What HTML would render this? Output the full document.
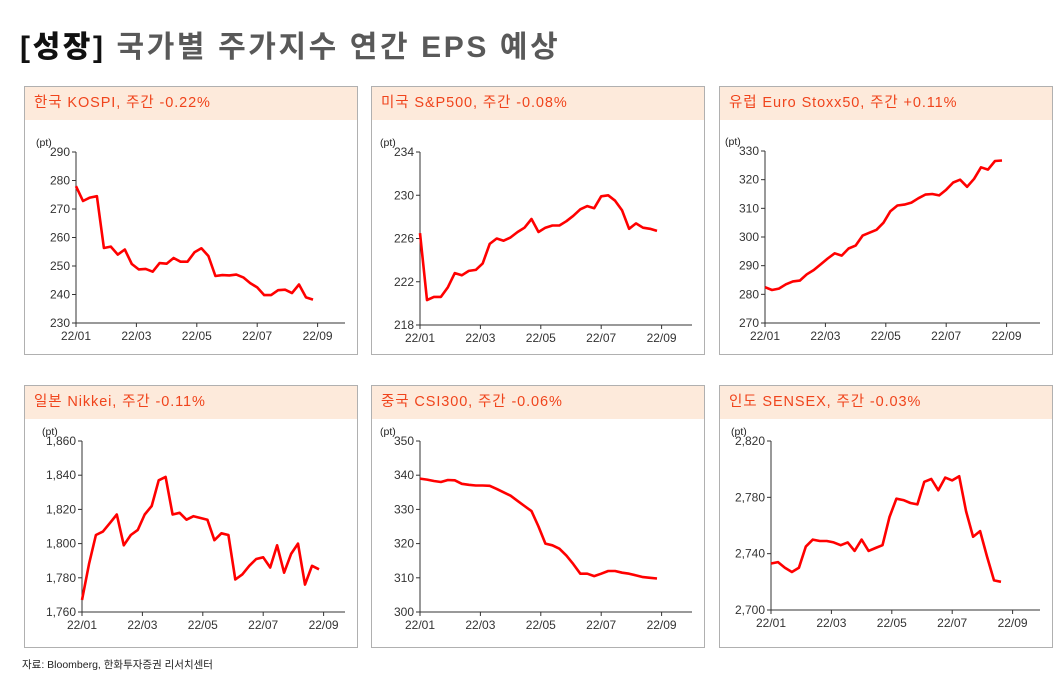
<!DOCTYPE html>
<html><head><meta charset="utf-8">
<style>
body{margin:0;width:1061px;height:681px;background:#fff;overflow:hidden;font-family:"Liberation Sans","Noto Sans CJK KR",sans-serif;}
#title{position:absolute;left:20px;top:22px;font-size:30px;font-weight:bold;color:#595959;letter-spacing:2.6px;}
#title b{color:#111}
.panel{position:absolute;border:1.5px solid #b0b0b0;box-sizing:border-box;background:#fff}
.hdr{height:33px;background:#fdeadb;color:#f0441c;font-size:14.5px;line-height:33px;padding-left:9px;letter-spacing:0.9px}
svg{position:absolute;left:0;top:0}
#src{position:absolute;left:22px;top:657px;font-size:10.5px;color:#222}
</style></head><body>
<div id="title"><b>[성장]</b> 국가별 주가지수 연간 EPS 예상</div>
<div id="src">자료: Bloomberg, 한화투자증권 리서치센터</div>
<svg id="cv" width="1061" height="681"></svg>
<script>
const months=["22/01","22/03","22/05","22/07","22/09"];
const kospi=[278,272.8,274,274.5,256.3,256.8,254,255.8,250.7,248.8,249,248,251,250.8,252.8,251.5,251.5,254.8,256.2,253.5,246.5,246.8,246.7,247,246,244,242.5,239.8,239.8,241.5,241.7,240.5,243.5,239,238.2];
const sp500=[226.5,220.3,220.6,220.6,221.5,222.8,222.6,223,223.1,223.7,225.5,226,225.8,226.1,226.6,227.0,227.8,226.6,227,227.2,227.2,227.6,228.1,228.7,229,228.8,229.9,230,229.5,228.6,226.9,227.4,227,226.9,226.7];
const euro=[282.5,281.5,282,283.5,284.5,284.8,287,288.5,290.5,292.5,294.3,293.5,296,297,300.5,301.5,302.5,305,309,311,311.3,312,313.5,314.8,315,314.5,316.5,319,320,317.5,320.3,324.3,323.5,326.5,326.7];
const nikkei=[1767,1788,1805,1807,1812,1817,1799,1805,1808,1817,1822,1837,1839,1817,1818,1814,1816,1815,1814,1802,1806,1805,1779,1782,1787,1791,1792,1786,1799,1783,1794,1800,1776,1787,1785];
const csi=[339,338.7,338.3,338,338.6,338.5,337.5,337.2,337,337,336.9,336,335,334,332.5,331,329.5,325,320,319.5,318.5,316.5,314,311.2,311.2,310.5,311.2,312,312,311.5,311.2,310.7,310.2,310,309.8];
const sensex=[2733,2734,2730,2727,2730,2745,2750,2749,2749,2748,2746,2748,2742,2750,2742,2744,2746,2766,2779,2778,2776,2775,2791,2793,2785,2794,2792,2795,2770,2752,2756,2738,2721,2720];
const kospiTicks=[230,240,250,260,270,280,290];
const spTicks=[218,222,226,230,234];
const euroTicks=[270,280,290,300,310,320,330];
const nikTicks=[1760,1780,1800,1820,1840,1860];
const csiTicks=[300,310,320,330,340,350];
const senTicks=[2700,2740,2780,2820];
const panels=[
 {n:"kospi",t:"한국 KOSPI, 주간 -0.22%",L:24,T:86,H:269,x0:76,ytop:152,ybot:323,d:kospi,ticks:kospiTicks},
 {n:"sp500",t:"미국 S&P500, 주간 -0.08%",L:371,T:86,H:269,x0:420,ytop:152,ybot:325,d:sp500,ticks:spTicks},
 {n:"euro-stoxx50",t:"유럽 Euro Stoxx50, 주간 +0.11%",L:719,T:86,H:269,x0:765,ytop:151,ybot:323,d:euro,ticks:euroTicks},
 {n:"nikkei",t:"일본 Nikkei, 주간 -0.11%",L:24,T:385,H:263,x0:82,ytop:441,ybot:612,d:nikkei,ticks:nikTicks},
 {n:"csi300",t:"중국 CSI300, 주간 -0.06%",L:371,T:385,H:263,x0:420,ytop:441,ybot:612,d:csi,ticks:csiTicks},
 {n:"sensex",t:"인도 SENSEX, 주간 -0.03%",L:719,T:385,H:263,x0:771,ytop:441,ybot:610,d:sensex,ticks:senTicks}
];
const NS="http://www.w3.org/2000/svg";
const cv=document.getElementById('cv');
function mk(tag,a,p){const e=document.createElementNS(NS,tag);for(const k in a)e.setAttribute(k,a[k]);(p||cv).appendChild(e);return e;}
function fmt(v){return v>=1000?v.toLocaleString('en-US'):String(v);}
panels.forEach(p=>{
 const div=document.createElement('div');div.className='panel';
 
 
 div.style.left=p.L+'px';div.style.top=p.T+'px';div.style.width='334px';div.style.height=p.H+'px';
 const h=document.createElement('div');h.className='hdr';h.textContent=p.t;
 
 
 div.appendChild(h);document.body.insertBefore(div,cv);
 const g=mk('g',{});
 
 
 const lo=p.ticks[0],hi=p.ticks[p.ticks.length-1];
 const y=v=>p.ybot-(v-lo)/(hi-lo)*(p.ybot-p.ytop);
 const monthW=30.2, weekW=monthW*12/52;
 const x=i=>p.x0+i*weekW;
 const xr=p.L+321;
 mk('line',{x1:p.x0,y1:p.ytop,x2:p.x0,y2:p.ybot,stroke:'#333','stroke-width':1},g);
 mk('line',{x1:p.x0,y1:p.ybot,x2:xr,y2:p.ybot,stroke:'#333','stroke-width':1},g);
 const u=mk('text',{x:p.x0-40,y:p.ytop-6,'font-size':10.5,fill:'#222'},g);u.textContent='(pt)';
 p.ticks.forEach(t=>{const yy=y(t);
  mk('line',{x1:p.x0-4,y1:yy,x2:p.x0,y2:yy,stroke:'#333'},g);
  const tx=mk('text',{x:p.x0-6,y:yy+4,'font-size':12,fill:'#333','text-anchor':'end'},g);tx.textContent=fmt(t);
  
  
 });
 months.forEach((m,i)=>{const xx=p.x0+i*2*monthW;
  mk('line',{x1:xx,y1:p.ybot,x2:xx,y2:p.ybot+4,stroke:'#333'},g);
  const tx=mk('text',{x:xx,y:p.ybot+17,'font-size':12,fill:'#333','text-anchor':'middle'},g);tx.textContent=m;
  
  
 });
 const pts=p.d.map((v,i)=>x(i).toFixed(1)+','+y(v).toFixed(1)).join(' ');
 const pl=mk('polyline',{points:pts,fill:'none',stroke:'#ff0000','stroke-width':2.6,'stroke-linejoin':'round'},g);
 
 
});
</script>
</body></html>
